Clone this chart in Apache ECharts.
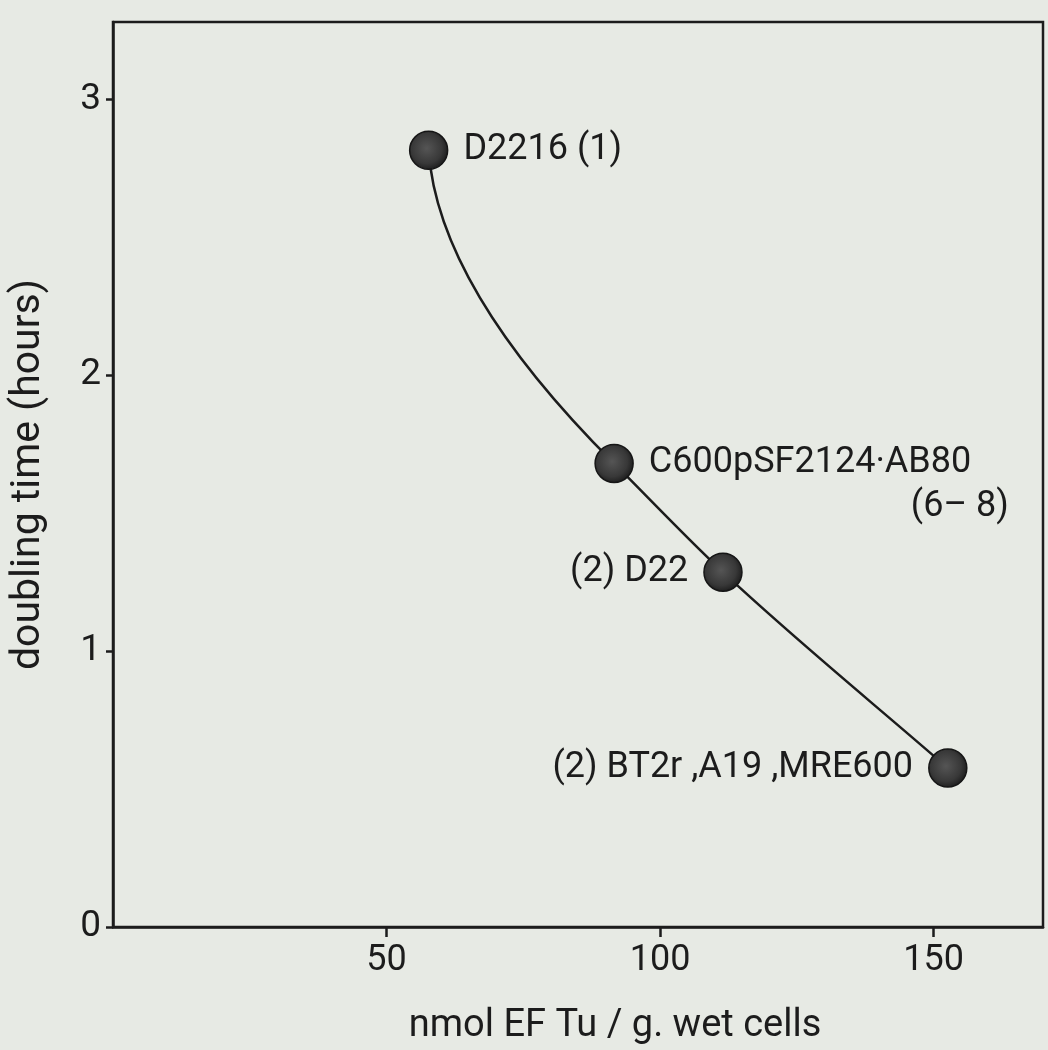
<!DOCTYPE html>
<html>
<head>
<meta charset="utf-8">
<script src="https://cdn.jsdelivr.net/npm/echarts@6/dist/echarts.min.js"></script>
<style>
  html, body { margin: 0; padding: 0; background: #e7eae4; }
  #chart { width: 1048px; height: 1050px; }
</style>
</head>
<body>
<div id="chart"></div>
<script>
// Strains and their EF-Tu content vs. doubling time
const strains = ['D2216 (1)', 'C600pSF2124·AB80', '(2) D22', '(2) BT2r ,A19 ,MRE600'];
const efTu = [57.7, 91.6, 111.5, 152.6];          // nmol EF Tu / g wet cells
const doublingTime = [2.815, 1.68, 1.286, 0.576];  // hours
const xTicks = [50, 100, 150];
const yTicks = [0, 1, 2, 3];

const labelSide = ['right', 'right', 'left', 'left'];
const FONT = 'Roboto';
const INK = '#1c1c1c';

const points = efTu.map((x, i) => ({
  value: [x, doublingTime[i]],
  label: {
    show: true,
    position: labelSide[i],
    distance: 15,
    formatter: i === 1 ? '{a|' + strains[i] + '}\n{b|(6– 8)}' : strains[i],
    rich: i === 1 ? {
      a: { fontFamily: FONT, fontSize: 36, color: INK, lineHeight: 44 },
      b: { fontFamily: FONT, fontSize: 36, color: INK, lineHeight: 44, padding: [0, 0, 0, 262] }
    } : undefined,
    padding: i === 1 ? [44, 0, 0, 0] : 0
  }
}));

// Hand-drawn style trend curve through the measured points:
// first span bends into the tangent of the second point, later spans are cubic Hermite.
function renderCurve(params, api) {
  if (params.dataIndex !== 0) return null;
  const p = efTu.map((x, i) => api.coord([x, doublingTime[i]]));
  const slope = (a, b) => (b[1] - a[1]) / (b[0] - a[0]);
  const n = p.length;
  const m = new Array(n);
  m[1] = slope(p[1], p[2]);
  for (let i = 2; i < n - 1; i++) m[i] = (slope(p[i - 1], p[i]) + slope(p[i], p[i + 1])) / 2;
  m[n - 1] = slope(p[n - 2], p[n - 1]);
  const style = { stroke: INK, lineWidth: 2.5, fill: null };
  const span0 = p[1][0] - p[0][0];
  const children = [{
    type: 'bezierCurve',
    shape: {
      x1: p[0][0], y1: p[0][1], x2: p[1][0], y2: p[1][1],
      cpx1: p[0][0] + span0 * 0.05, cpy1: p[1][1] - m[1] * span0 * 0.95
    },
    style
  }];
  for (let i = 1; i < n - 1; i++) {
    const dx = (p[i + 1][0] - p[i][0]) / 3;
    children.push({
      type: 'bezierCurve',
      shape: {
        x1: p[i][0], y1: p[i][1], x2: p[i + 1][0], y2: p[i + 1][1],
        cpx1: p[i][0] + dx, cpy1: p[i][1] + m[i] * dx,
        cpx2: p[i + 1][0] - dx, cpy2: p[i + 1][1] - m[i + 1] * dx
      },
      style
    });
  }
  return { type: 'group', children };
}

const chart = echarts.init(document.getElementById('chart'));
chart.setOption({
  backgroundColor: '#e7eae4',
  animation: false,
  grid: {
    left: 113, right: 5, top: 22, bottom: 123,
    outerBoundsMode: 'none',
    containLabel: false,
    show: true, borderColor: INK, borderWidth: 2.5, backgroundColor: 'transparent'
  },
  xAxis: {
    type: 'value', min: 0, max: 170, interval: 50,
    name: 'nmol EF Tu / g. wet cells',
    nameLocation: 'middle', nameGap: 80,
    nameTextStyle: { fontFamily: FONT, fontSize: 38, color: INK, padding: [0, 0, 0, 74] },
    axisLine: { show: true, lineStyle: { color: INK, width: 2.5 } },
    axisTick: { show: true, length: 10, lineStyle: { color: INK, width: 2.5 } },
    axisLabel: {
      margin: 16, fontFamily: FONT, fontSize: 36, color: INK,
      showMinLabel: false, showMaxLabel: false,
      formatter: v => xTicks.includes(v) ? String(v) : ''
    },
    splitLine: { show: false }
  },
  yAxis: {
    type: 'value', min: 0, max: 3.28, interval: 1,
    name: 'doubling time (hours)',
    nameLocation: 'middle', nameGap: 64,
    nameTextStyle: { fontFamily: FONT, fontSize: 41, color: INK },
    axisLine: { show: true, lineStyle: { color: INK, width: 2.5 } },
    axisTick: { show: true, length: 7, lineStyle: { color: INK, width: 2.5 } },
    axisLabel: {
      margin: 12, fontFamily: FONT, fontSize: 37, color: INK,
      showMaxLabel: false,
      formatter: v => yTicks.includes(v) ? String(v) : ''
    },
    splitLine: { show: false }
  },
  series: [{
    type: 'custom',
    renderItem: renderCurve,
    data: efTu.map((x, i) => [x, doublingTime[i]]),
    silent: true,
    z: 2
  }, {
    type: 'scatter',
    data: points,
    symbol: 'circle',
    symbolSize: 38,
    itemStyle: {
      opacity: 1,
      color: {
        type: 'radial', x: 0.45, y: 0.45, r: 0.55,
        colorStops: [
          { offset: 0, color: '#555555' },
          { offset: 0.7, color: '#383838' },
          { offset: 1, color: '#1e1e1e' }
        ]
      },
      borderColor: '#161616', borderWidth: 1.5
    },
    label: { fontFamily: FONT, fontSize: 36, color: INK, opacity: 1 },
    z: 3
  }]
});
</script>
</body>
</html>
